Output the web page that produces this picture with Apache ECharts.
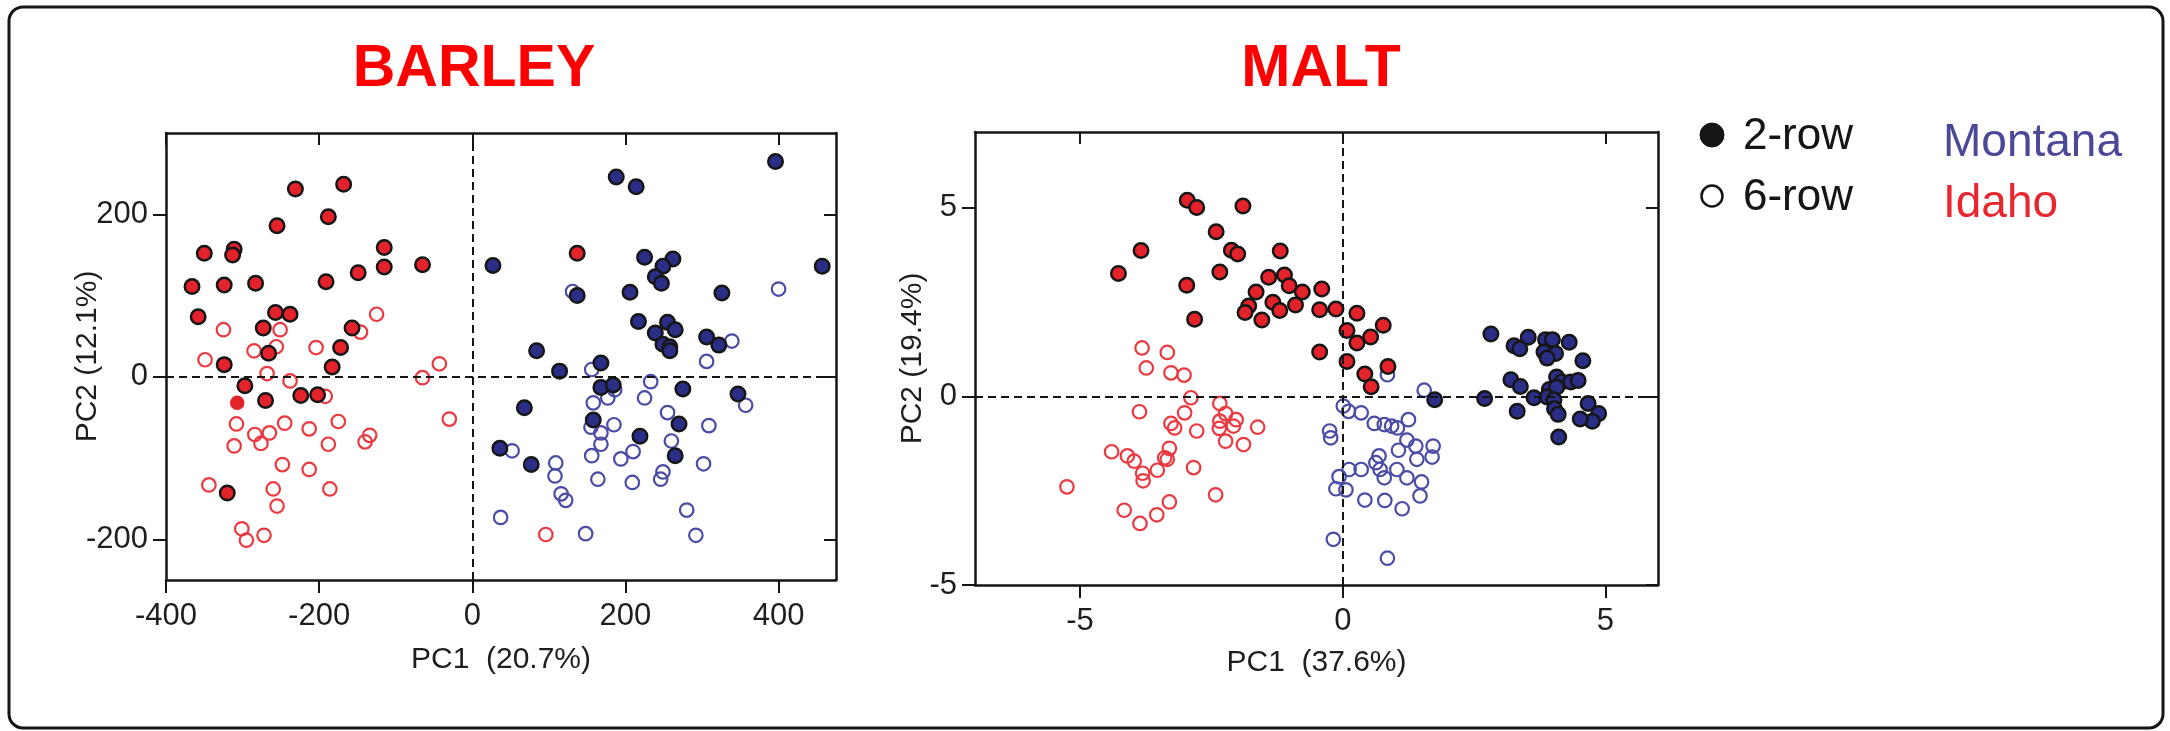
<!DOCTYPE html>
<html><head><meta charset="utf-8">
<script src="https://cdn.jsdelivr.net/npm/echarts@6/dist/echarts.min.js"></script>
<style>html,body{margin:0;padding:0;background:#fff}#c{width:2170px;height:731px}</style>
</head><body><div id="c"></div>
<script>
// ---- tick labels ----
const barleyXTicks = [-400, -200, 0, 200, 400];
const barleyYTicks = [-200, 0, 200];
const maltXTicks = [-5, 0, 5];
const maltYTicks = [-5, 0, 5];

// ---- BARLEY (PC1, PC2) ----
const barleyIdaho2Row = [[-231,231],[-168,237],[-188,197],[-255,186],[-350,152],[-311,157],[-313,150],[-115,159],[-115,135],[-65,138],[-149,128],[-366,111],[-324,113],[-283,115],[-191,117],[-358,74],[-257,79],[-238,77],[-273,60],[-157,60],[-172,36],[-266,29],[-324,15],[-183,12],[-297,-11],[-270,-29],[-224,-23],[-202,-22],[-320,-143],[137,152]];
const barleyIdaho2RowPlain = [[-307,-32]];
const barleyIdaho6Row = [[-125,77],[-325,58],[-251,58],[-146,55],[-256,37],[-285,32],[-204,36],[-349,21],[-43,16],[-268,4],[-65,-1],[-238,-5],[-192,-24],[-30,-52],[-308,-58],[-245,-57],[-213,-64],[-175,-55],[-284,-71],[-265,-69],[-311,-85],[-276,-82],[-188,-83],[-134,-72],[-140,-80],[-248,-108],[-213,-114],[-344,-133],[-260,-138],[-186,-138],[-255,-159],[-301,-187],[-295,-201],[-272,-195],[96,-194]];
const barleyMontana2Row = [[396,265],[188,246],[214,234],[27,137],[457,136],[225,147],[262,145],[249,136],[239,123],[247,115],[137,100],[206,104],[326,103],[217,68],[255,67],[265,58],[239,54],[306,49],[322,39],[249,40],[258,37],[258,32],[84,32],[168,17],[114,7],[168,-13],[184,-10],[275,-15],[347,-21],[68,-38],[158,-53],[270,-58],[219,-73],[36,-88],[265,-97],[77,-108]];
const barleyMontana6Row = [[131,105],[400,108],[339,44],[306,19],[156,9],[233,-6],[186,-16],[177,-26],[225,-26],[158,-32],[255,-44],[357,-35],[309,-60],[185,-59],[155,-62],[168,-69],[168,-83],[260,-79],[156,-97],[194,-101],[210,-92],[302,-107],[52,-91],[109,-106],[108,-122],[164,-126],[209,-130],[249,-117],[246,-126],[116,-144],[122,-152],[280,-164],[37,-173],[148,-193],[292,-195]];

// ---- MALT (PC1, PC2) ----
const maltIdaho2Row = [[-2.96,5.19],[-2.78,5.0],[-1.90,5.04],[-2.41,4.36],[-3.84,3.86],[-2.12,3.87],[-2.0,3.77],[-1.19,3.85],[-4.27,3.25],[-2.34,3.29],[-2.97,2.94],[-1.41,3.15],[-1.11,3.21],[-1.02,2.93],[-1.65,2.76],[-0.77,2.76],[-0.40,2.84],[-1.33,2.49],[-1.79,2.39],[-1.86,2.22],[-1.20,2.27],[-0.90,2.42],[-0.44,2.29],[-0.13,2.31],[-1.54,2.02],[-2.82,2.04],[-0.44,1.17],[0.08,1.74],[0.08,0.92],[0.27,2.20],[0.77,1.88],[0.53,1.57],[0.27,1.41],[0.86,0.79],[0.42,0.59],[0.54,0.25]];
const maltIdaho6Row = [[-3.82,1.28],[-3.34,1.16],[-3.74,0.75],[-3.27,0.62],[-3.02,0.56],[-2.89,-0.04],[-3.87,-0.41],[-3.01,-0.44],[-2.34,-0.19],[-2.23,-0.46],[-3.27,-0.72],[-3.20,-0.84],[-2.78,-0.92],[-2.34,-0.66],[-2.35,-0.85],[-2.03,-0.62],[-2.08,-0.79],[-1.62,-0.82],[-2.23,-1.19],[-1.89,-1.28],[-4.40,-1.47],[-4.10,-1.58],[-3.97,-1.72],[-3.30,-1.38],[-3.39,-1.63],[-3.34,-1.67],[-3.53,-1.96],[-3.81,-2.04],[-3.80,-2.24],[-2.84,-1.89],[-5.25,-2.40],[-3.30,-2.80],[-2.42,-2.61],[-4.16,-3.02],[-3.54,-3.14],[-3.86,-3.37]];
const maltMontana2Row = [[2.82,1.65],[3.53,1.56],[3.26,1.34],[3.37,1.26],[3.86,1.50],[3.99,1.50],[4.31,1.43],[3.83,1.17],[4.05,1.13],[3.89,1.01],[4.57,0.94],[3.20,0.44],[3.38,0.26],[4.07,0.51],[4.17,0.38],[4.34,0.38],[4.48,0.42],[3.93,0.18],[4.07,0.24],[3.64,-0.04],[3.89,-0.02],[4.02,-0.09],[4.03,-0.33],[4.10,-0.48],[4.67,-0.19],[4.87,-0.46],[4.75,-0.66],[4.52,-0.60],[3.32,-0.40],[4.11,-1.08],[1.75,-0.09],[2.70,-0.06]];
const maltMontana6Row = [[0.85,0.57],[1.55,0.16],[0.01,-0.26],[0.11,-0.40],[0.35,-0.44],[-0.25,-0.92],[-0.23,-1.10],[0.60,-0.72],[0.79,-0.75],[0.93,-0.79],[1.04,-0.84],[1.25,-0.62],[1.22,-1.16],[1.39,-1.32],[1.72,-1.32],[1.06,-1.43],[1.41,-1.67],[1.70,-1.61],[0.69,-1.58],[0.63,-1.76],[0.71,-1.94],[0.79,-2.16],[1.03,-1.94],[1.22,-2.16],[1.50,-2.27],[0.35,-1.94],[0.12,-1.94],[-0.07,-2.13],[-0.13,-2.45],[0.06,-2.48],[1.47,-2.64],[0.42,-2.75],[0.80,-2.76],[1.13,-2.98],[-0.18,-3.79],[0.85,-4.29]];

const FONT = '"Liberation Sans", Arial, Helvetica, sans-serif';
const INK = '#151515';
const RED_FILL = '#E4222A', NAVY_FILL = '#2B2E86', RED_OPEN = '#EA3A41', BLUE_OPEN = '#4A4CA6';

function mainAxis(dim, grid, min, max, ticks, name, nameGap, margin) {
  const a = {
    type: 'value', gridIndex: grid, min: min, max: max,
    position: dim === 'x' ? 'bottom' : 'left',
    axisLine: { show: true, onZero: false, lineStyle: { color: INK, width: 2.5 } },
    axisTick: { show: true, inside: false, length: 13, customValues: ticks, lineStyle: { color: INK, width: 2 } },
    axisLabel: { show: true, customValues: ticks, margin: margin, fontSize: 31, color: '#1e1e1e', fontFamily: FONT },
    splitLine: { show: false },
    name: name, nameLocation: 'middle', nameGap: nameGap, nameMoveOverlap: false,
    nameTextStyle: { fontSize: 30, color: '#1e1e1e', fontFamily: FONT }
  };
  if (dim === 'y') a.nameRotate = 90;
  return a;
}
function mirrorAxis(dim, grid, min, max, ticks) {
  return {
    type: 'value', gridIndex: grid, min: min, max: max,
    position: dim === 'x' ? 'top' : 'right',
    axisLine: { show: true, onZero: false, lineStyle: { color: INK, width: 2.5 } },
    axisTick: { show: true, inside: true, length: 12, customValues: ticks, lineStyle: { color: INK, width: 2 } },
    axisLabel: { show: false },
    splitLine: { show: false }
  };
}
function filled(data, xi, fill, border) {
  return { type: 'scatter', xAxisIndex: xi, yAxisIndex: xi, data: data, symbol: 'circle', symbolSize: 14.5,
    itemStyle: { color: fill, borderColor: border, borderWidth: border === 'none' ? 0 : 2.5, opacity: 1 }, z: 4, silent: true };
}
function open(data, xi, stroke) {
  return { type: 'scatter', xAxisIndex: xi, yAxisIndex: xi, data: data, symbol: 'circle', symbolSize: 13.5,
    itemStyle: { color: 'rgba(255,255,255,0)', borderColor: stroke, borderWidth: 2.2, opacity: 1 }, z: 3, silent: true };
}
function zeroLines(xi) {
  return { type: 'scatter', xAxisIndex: xi, yAxisIndex: xi, data: [], z: 2, silent: true,
    markLine: { silent: true, symbol: 'none', animation: false, label: { show: false },
      lineStyle: { color: INK, type: [8, 5], width: 2 },
      emphasis: { disabled: true },
      data: [{ xAxis: 0 }, { yAxis: 0 }] } };
}

const chart = echarts.init(document.getElementById('c'), null, { renderer: 'canvas' });
chart.setOption({
  backgroundColor: '#ffffff',
  animation: false,
  grid: [
    { left: 166, top: 133, width: 670, height: 447 },
    { left: 975, top: 132, width: 683, height: 453 }
  ],
  xAxis: [
    mainAxis('x', 0, -400, 475, barleyXTicks, 'PC1  (20.7%)', 65, 21),
    mirrorAxis('x', 0, -400, 475, barleyXTicks),
    mainAxis('x', 1, -7, 6, maltXTicks, 'PC1  (37.6%)', 63, 21),
    mirrorAxis('x', 1, -7, 6, maltXTicks)
  ],
  yAxis: [
    mainAxis('y', 0, -250, 300, barleyYTicks, 'PC2 (12.1%)', 63, 18),
    mirrorAxis('y', 0, -250, 300, barleyYTicks),
    mainAxis('y', 1, -5, 7, maltYTicks, 'PC2 (19.4%)', 47, 18),
    mirrorAxis('y', 1, -5, 7, maltYTicks)
  ],
  series: [
    zeroLines(0),
    open(barleyIdaho6Row, 0, RED_OPEN),
    open(barleyMontana6Row, 0, BLUE_OPEN),
    filled(barleyIdaho2Row, 0, RED_FILL, '#161616'),
    filled(barleyIdaho2RowPlain, 0, RED_FILL, 'none'),
    filled(barleyMontana2Row, 0, NAVY_FILL, '#161616'),
    zeroLines(2),
    open(maltIdaho6Row, 2, RED_OPEN),
    open(maltMontana6Row, 2, BLUE_OPEN),
    filled(maltIdaho2Row, 2, RED_FILL, '#161616'),
    filled(maltMontana2Row, 2, NAVY_FILL, '#161616')
  ],
  graphic: [
    { type: 'rect', shape: { x: 9, y: 7, width: 2154, height: 721, r: 14 }, style: { fill: 'none', stroke: INK, lineWidth: 3 }, silent: true },
    { type: 'text', x: 474, y: 70, style: { text: 'BARLEY', fill: '#FF0000', font: 'bold 59px ' + FONT, align: 'center', verticalAlign: 'middle' } },
    { type: 'text', x: 1321, y: 70, style: { text: 'MALT', fill: '#FF0000', font: 'bold 59px ' + FONT, align: 'center', verticalAlign: 'middle' } },
    { type: 'circle', shape: { cx: 1712, cy: 135, r: 12 }, style: { fill: INK, stroke: INK, lineWidth: 1 } },
    { type: 'text', x: 1743, y: 137, style: { text: '2-row', fill: INK, font: '44px ' + FONT, align: 'left', verticalAlign: 'middle' } },
    { type: 'circle', shape: { cx: 1712, cy: 196, r: 10.5 }, style: { fill: '#fff', stroke: INK, lineWidth: 2.5 } },
    { type: 'text', x: 1743, y: 198, style: { text: '6-row', fill: INK, font: '44px ' + FONT, align: 'left', verticalAlign: 'middle' } },
    { type: 'text', x: 1943, y: 143, style: { text: 'Montana', fill: '#4B4898', font: '46px ' + FONT, align: 'left', verticalAlign: 'middle' } },
    { type: 'text', x: 1943, y: 204, style: { text: 'Idaho', fill: '#E8262E', font: '46px ' + FONT, align: 'left', verticalAlign: 'middle' } }
  ]
});
</script>
</body></html>
